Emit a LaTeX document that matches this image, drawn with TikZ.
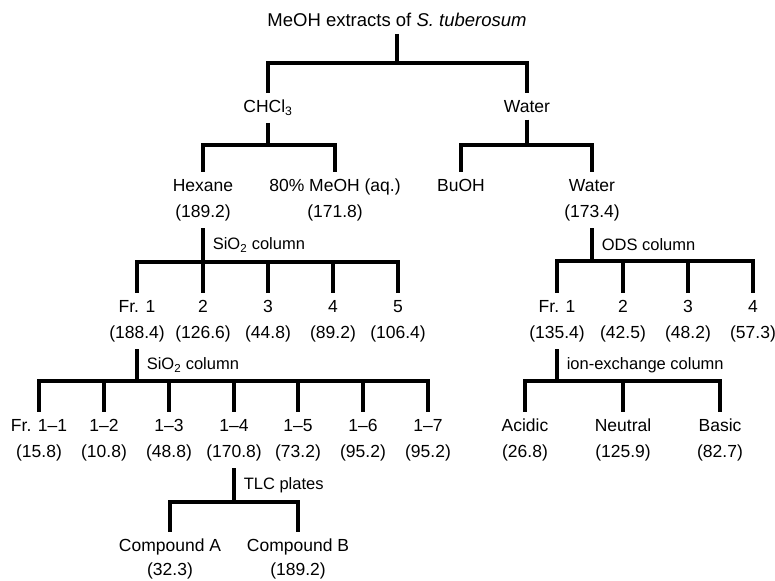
\documentclass[tikz,border=0pt]{standalone}
\usepackage{fontspec}
\setmainfont{Liberation Sans}
\usepackage{tikz}
\usetikzlibrary{positioning}
\tikzstyle{fraction} = [anchor=north, align=center, inner ysep=7pt, inner xsep=2pt, font=\fontsize{17.5}{26}\selectfont]
\tikzstyle{method} = [right, inner xsep=8pt, font=\fontsize{16.5}{18}\selectfont]
\tikzstyle{branch} = [line width=3.6pt]

\begin{document}
\begin{tikzpicture}[x=1pt, y=-1pt]
    \useasboundingbox (0,0) rectangle (775,580);

    \node (meoh) [fraction, font=\fontsize{18.5}{22}\selectfont] at (397,6) {MeOH extracts of \textit{S. tuberosum}};
    \node (chcl3) [fraction] at (268,93) {CHCl\textsubscript{3}};
    \node (water) [fraction] at (527,93) {Water};

    \node (hexane) [fraction] at (203,172) {Hexane\\(189.2)};
    \node (meoh-aq) [fraction] at (335,172) {80\% MeOH (aq.)\\(171.8)};
    \node (buoh) [fraction] at (461,172) {BuOH};
    \node (water-aq) [fraction] at (592,172) {Water\\(173.4)};

    \node (fr-1) [fraction] at (137,293) {Fr. 1\\(188.4)};
    \node (fr-2) [fraction] at (203,293) {2\\(126.6)};
    \node (fr-3) [fraction] at (268,293) {3\\(44.8)};
    \node (fr-4) [fraction] at (333,293) {4\\(89.2)};
    \node (fr-5) [fraction] at (398,293) {5\\(106.4)};

    \node (ods-1) [fraction] at (557,293) {Fr. 1\\(135.4)};
    \node (ods-2) [fraction] at (623,293) {2\\(42.5)};
    \node (ods-3) [fraction] at (688,293) {3\\(48.2)};
    \node (ods-4) [fraction] at (753,293) {4\\(57.3)};

    \node (fr-1-1) [fraction] at (39,412) {Fr. 1--1\\(15.8)};
    \node (fr-1-2) [fraction] at (104,412) {1--2\\(10.8)};
    \node (fr-1-3) [fraction] at (169,412) {1--3\\(48.8)};
    \node (fr-1-4) [fraction] at (234,412) {1--4\\(170.8)};
    \node (fr-1-5) [fraction] at (298,412) {1--5\\(73.2)};
    \node (fr-1-6) [fraction] at (363,412) {1--6\\(95.2)};
    \node (fr-1-7) [fraction] at (428,412) {1--7\\(95.2)};

    \node (acidic) [fraction] at (525,412) {Acidic\\(26.8)};
    \node (neutral) [fraction] at (623,412) {Neutral\\(125.9)};
    \node (basic) [fraction] at (720,412) {Basic\\(82.7)};

    \node (compound-a) [fraction, font=\fontsize{17.5}{24}\selectfont] at (170,532) {Compound A\\(32.3)};
    \node (compound-b) [fraction, font=\fontsize{17.5}{24}\selectfont] at (298,532) {Compound B\\(189.2)};

    % split points
    \coordinate (split-meoh) at (397,63);
    \coordinate (split-chcl3) at (268,145);
    \coordinate (split-water) at (527,145);
    \coordinate (split-hexane) at (203,262);
    \coordinate (split-water-aq) at (592,261);
    \coordinate (split-fr-1) at (137,381);
    \coordinate (split-ods-1) at (557,381);
    \coordinate (split-fr-1-4) at (234,502);

    \draw [branch] (meoh.south) -- (split-meoh);
    \draw [branch] (split-meoh) -| (chcl3.north);
    \draw [branch] (split-meoh) -| (water.north);

    \draw [branch] (chcl3.south) -- (split-chcl3);
    \draw [branch] (split-chcl3) -| (hexane.north);
    \draw [branch] (split-chcl3) -| (meoh-aq.north);

    \draw [branch] (water.south) -- (split-water);
    \draw [branch] (split-water) -| (buoh.north);
    \draw [branch] (split-water) -| (water-aq.north);

    \draw [branch] (hexane.south) -- node [method] {SiO\textsubscript{2} column} (split-hexane);
    \draw [branch] (split-hexane) -| (fr-1.north);
    \draw [branch] (split-hexane) -| (fr-2.north);
    \draw [branch] (split-hexane) -| (fr-3.north);
    \draw [branch] (split-hexane) -| (fr-4.north);
    \draw [branch] (split-hexane) -| (fr-5.north);

    \draw [branch] (water-aq.south) -- node [method] {ODS column} (split-water-aq);
    \draw [branch] (split-water-aq) -| (ods-1.north);
    \draw [branch] (split-water-aq) -| (ods-2.north);
    \draw [branch] (split-water-aq) -| (ods-3.north);
    \draw [branch] (split-water-aq) -| (ods-4.north);

    \draw [branch] (fr-1.south) -- node [method] {SiO\textsubscript{2} column} (split-fr-1);
    \draw [branch] (split-fr-1) -| (fr-1-1.north);
    \draw [branch] (split-fr-1) -| (fr-1-2.north);
    \draw [branch] (split-fr-1) -| (fr-1-3.north);
    \draw [branch] (split-fr-1) -| (fr-1-4.north);
    \draw [branch] (split-fr-1) -| (fr-1-5.north);
    \draw [branch] (split-fr-1) -| (fr-1-6.north);
    \draw [branch] (split-fr-1) -| (fr-1-7.north);

    \draw [branch] (ods-1.south) -- node [method] {ion-exchange column} (split-ods-1);
    \draw [branch] (split-ods-1) -| (acidic.north);
    \draw [branch] (split-ods-1) -| (neutral.north);
    \draw [branch] (split-ods-1) -| (basic.north);

    \draw [branch] (fr-1-4.south) -- node [method] {TLC plates} (split-fr-1-4);
    \draw [branch] (split-fr-1-4) -| (compound-a.north);
    \draw [branch] (split-fr-1-4) -| (compound-b.north);
\end{tikzpicture}
\end{document}
